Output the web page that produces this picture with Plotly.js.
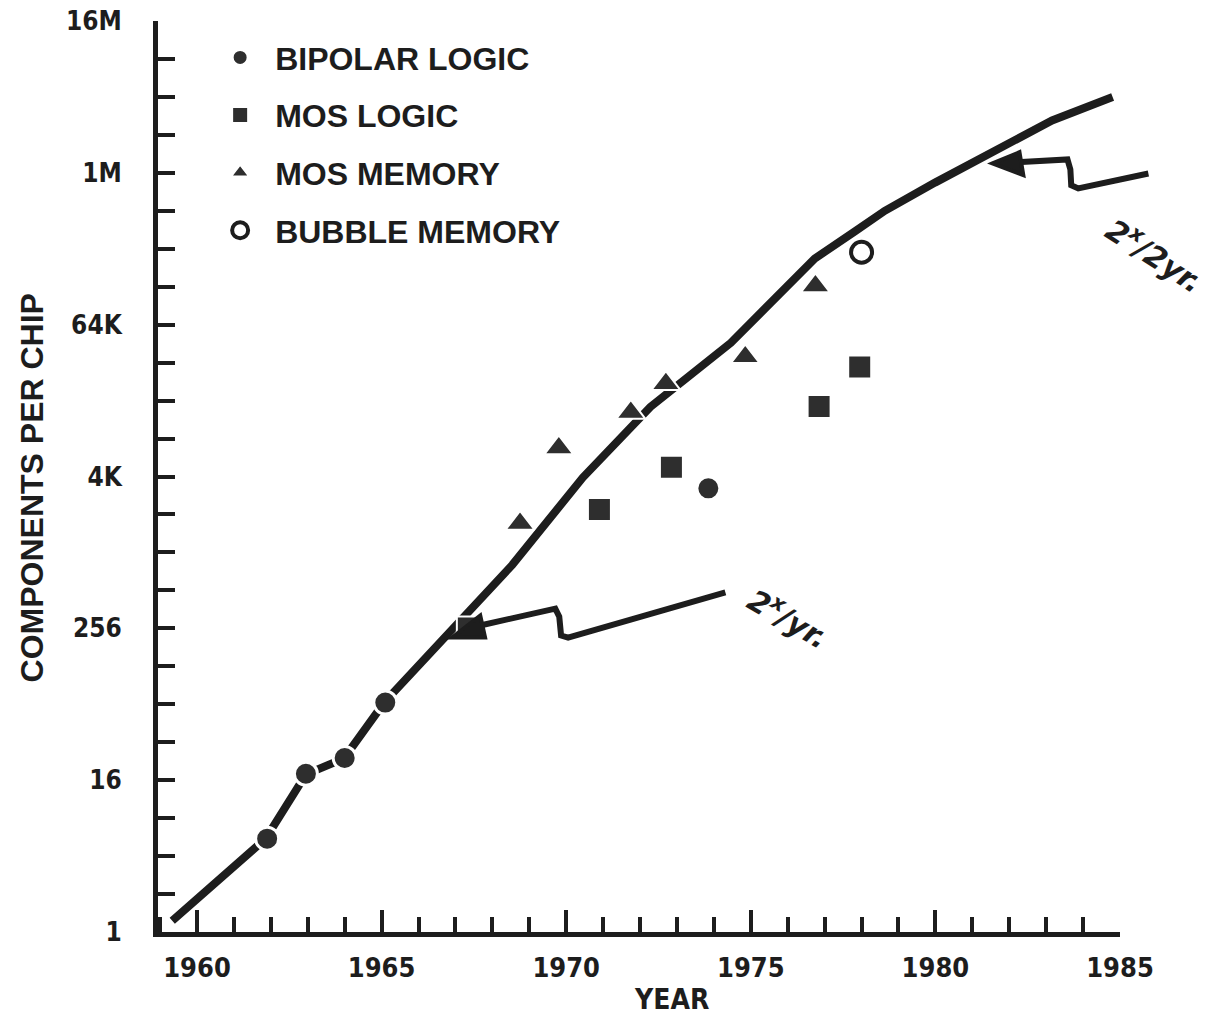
<!DOCTYPE html>
<html>
<head>
<meta charset="utf-8">
<script src="https://cdn.plot.ly/plotly-3.0.1.min.js"></script>
<style>
  html, body { margin: 0; padding: 0; background: #ffffff; }
  #chart { width: 1225px; height: 1019px; }
</style>
</head>
<body>
<div id="chart"></div>
<script>
// ---- data (year, components per chip) ----
const bipolarYears = [1961.9, 1962.95, 1964.0, 1965.1, 1973.85];
const bipolarComps = [5.5, 18, 24, 66, 3300];

const mosLogicYears = [1967.35, 1970.9, 1972.85, 1976.85, 1977.95];
const mosLogicComps = [257, 2240, 4860, 14700, 30200];

const mosMemoryYears = [1968.75, 1969.8, 1971.75, 1972.7, 1974.85, 1976.75];
const mosMemoryComps = [1740, 6900, 13200, 22300, 36400, 133000];

const bubbleYears = [1978.0];
const bubbleComps = [246000];

const trendYears = [1959.33, 1961.53, 1961.86, 1962.95, 1963.98, 1965.08, 1968.54, 1970.45,
                    1972.28, 1974.46, 1975.55, 1976.73, 1977.81, 1978.63, 1979.99, 1981.35,
                    1983.16, 1984.8];
const trendComps = [1.23, 4.4, 5.5, 17.8, 23.8, 66.5, 816, 4020,
                    14600, 47100, 101000, 219000, 358000, 524000, 877000, 1420000,
                    2730000, 4190000];

const seriesNames = ['BIPOLAR LOGIC', 'MOS LOGIC', 'MOS MEMORY', 'BUBBLE MEMORY'];

const yTickVals = [1, 2, 4, 8, 16, 32, 64, 128, 256, 512, 1024, 2048, 4096, 8192, 16384,
                   32768, 65536, 131072, 262144, 524288, 1048576, 2097152, 4194304,
                   8388608, 16777216];
const yTickLabelMap = {1: '1', 16: '16', 256: '256', 4096: '4K', 65536: '64K',
                       1048576: '1M', 16777216: '16M'};
const xTickYears = [1960, 1965, 1970, 1975, 1980, 1985];
const xTickLabels = ['1960', '1965', '1970', '1975', '1980', '1985'];

// ---- styling ----
const INK = '#1d1d1d';
const MARK = '#2e2e2e';
const NARROW = '"Liberation Sans Narrow", "DejaVu Sans Condensed", "Liberation Sans", sans-serif';
const SANS = '"Liberation Sans", Arial, sans-serif';
const PW = 962, PH = 911;

// map a position on the (slightly skewed) scanned page to paper coords
function pp(px, py) {
  const a = px - 158, b = 940 - py;
  const v = b - 0.027 * a;
  const u = a + 0.007 * v;
  return [u / PW, v * 0.991 / PH];
}
function pathOf(pts, close) {
  return pts.map((p, i) => {
    const q = pp(p[0], p[1]);
    return (i === 0 ? 'M' : 'L') + q[0].toFixed(4) + ',' + q[1].toFixed(4);
  }).join(' ') + (close ? ' Z' : '');
}

const traces = [
  {
    x: trendYears, y: trendComps, type: 'scatter', mode: 'lines',
    line: {color: INK, width: 8}, showlegend: false, hoverinfo: 'skip'
  },
  {
    x: bipolarYears, y: bipolarComps, type: 'scatter', mode: 'markers', name: seriesNames[0],
    legendgroup: 'g1',
    marker: {symbol: 'circle', size: 23, color: MARK, line: {color: '#ffffff', width: 3}}
  },
  {
    x: mosLogicYears, y: mosLogicComps, type: 'scatter', mode: 'markers', name: seriesNames[1],
    legendgroup: 'g2',
    marker: {symbol: 'square', size: 23, color: MARK, line: {color: '#ffffff', width: 2}}
  },
  {
    x: mosMemoryYears, y: mosMemoryComps, type: 'scatter', mode: 'markers', name: seriesNames[2],
    legendgroup: 'g3',
    marker: {symbol: 'triangle-up', size: 25, color: MARK, line: {color: '#ffffff', width: 2}}
  },
  {
    x: bubbleYears, y: bubbleComps, type: 'scatter', mode: 'markers', name: seriesNames[3],
    legendgroup: 'g4',
    marker: {symbol: 'circle-open', size: 21, color: INK, line: {color: INK, width: 4}}
  }
];

const shapes = [
  // "2x/yr." pointer
  {type: 'path', xref: 'paper', yref: 'paper', layer: 'above',
   path: pathOf([[478, 622], [553, 603], [557, 611], [559, 630], [566, 632], [723, 582]]),
   line: {color: INK, width: 6}},
  {type: 'path', xref: 'paper', yref: 'paper', layer: 'above',
   path: pathOf([[450, 635], [478, 612], [483, 634]], true),
   fillcolor: INK, line: {color: INK, width: 4}},
  // "2x/2yr." pointer
  {type: 'path', xref: 'paper', yref: 'paper', layer: 'above',
   path: pathOf([[1016, 140], [1062, 136], [1065, 146], [1066, 162], [1073, 165], [1143, 148]]),
   line: {color: INK, width: 6}},
  {type: 'path', xref: 'paper', yref: 'paper', layer: 'above',
   path: pathOf([[987, 142], [1014, 130], [1018, 153]], true),
   fillcolor: INK, line: {color: INK, width: 4}}
];

const a1 = pp(786, 606), a2 = pp(1150, 230);
const annotations = [
  {xref: 'paper', yref: 'paper', x: -0.131, y: 0.488, text: 'COMPONENTS PER CHIP',
   textangle: -90, showarrow: false, xanchor: 'center', yanchor: 'middle',
   font: {family: SANS, size: 32, color: INK, weight: 'bold'}},
  {xref: 'paper', yref: 'paper', x: 0.534, y: -0.074, text: 'YEAR',
   showarrow: false, xanchor: 'center', yanchor: 'middle',
   font: {family: NARROW, size: 28, color: INK, weight: 'bold'}},
  {xref: 'paper', yref: 'paper', x: a1[0], y: a1[1], text: '2<sup>x</sup>/yr.',
   textangle: 30, showarrow: false, xanchor: 'center', yanchor: 'middle',
   font: {family: '"DejaVu Sans", sans-serif', size: 30, color: INK, weight: 'bold', style: 'italic'}},
  {xref: 'paper', yref: 'paper', x: a2[0], y: a2[1], text: '2<sup>x</sup>/2yr.',
   textangle: 33, showarrow: false, xanchor: 'center', yanchor: 'middle',
   font: {family: '"DejaVu Sans", sans-serif', size: 30, color: INK, weight: 'bold', style: 'italic'}}
];

const layout = {
  width: 1225, height: 1019,
  margin: {l: 158, r: 105, t: 21, b: 87},
  paper_bgcolor: '#ffffff', plot_bgcolor: '#ffffff',
  showlegend: true,
  legend: {
    x: 0.049, y: 0.99, xanchor: 'left', yanchor: 'top',
    bgcolor: 'rgba(0,0,0,0)', borderwidth: 0,
    itemwidth: 60, tracegroupgap: 13,
    font: {family: SANS, size: 32, color: INK, weight: 'bold'}
  },
  xaxis: {
    range: [1958.944, 1985], showgrid: false, zeroline: false,
    showline: true, linecolor: INK, linewidth: 5,
    tickmode: 'array', tickvals: xTickYears, ticktext: xTickLabels,
    ticks: 'inside', ticklen: 22, tickwidth: 4, tickcolor: INK,
    ticklabelstandoff: 8,
    minor: {dtick: 1, tick0: 1960, ticks: 'inside', ticklen: 15, tickwidth: 4, tickcolor: INK, showgrid: false},
    tickfont: {family: NARROW, size: 27, color: INK, weight: 'bold'}
  },
  yaxis: {
    type: 'log', range: [0, 7.22472], showgrid: false, zeroline: false,
    showline: true, linecolor: INK, linewidth: 5,
    tickmode: 'array', tickvals: yTickVals,
    ticktext: yTickVals.map(v => yTickLabelMap[v] || ''),
    ticks: 'inside', ticklen: 17, tickwidth: 4, tickcolor: INK,
    ticklabelstandoff: 26,
    tickfont: {family: NARROW, size: 26, color: INK, weight: 'bold'}
  },
  shapes: shapes,
  annotations: annotations
};

Plotly.newPlot('chart', traces, layout, {displayModeBar: false, staticPlot: true});
</script>
</body>
</html>
